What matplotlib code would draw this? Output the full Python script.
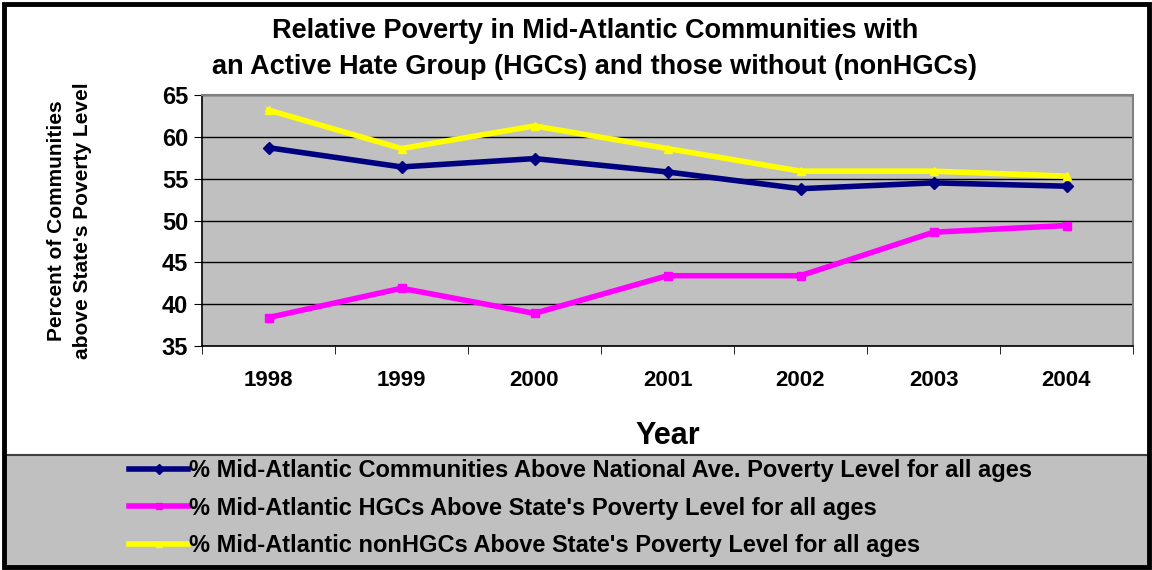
import numpy as np
import matplotlib.pyplot as plt
from matplotlib.patches import Rectangle
from matplotlib.lines import Line2D

# data
years = ["1998", "1999", "2000", "2001", "2002", "2003", "2004"]
national = [58.7, 56.4, 57.4, 55.8, 53.8, 54.5, 54.1]
hgcs = [38.4, 41.9, 38.9, 43.4, 43.4, 48.6, 49.4]
nonhgcs = [63.2, 58.6, 61.3, 58.6, 55.9, 55.9, 55.3]

labels = ["% Mid-Atlantic Communities Above National Ave. Poverty Level for all ages",
          "% Mid-Atlantic HGCs Above State's Poverty Level for all ages",
          "% Mid-Atlantic nonHGCs Above State's Poverty Level for all ages"]
colors = ["#000080", "#FF00FF", "#FFFF00"]
markers = ["D", "s", "^"]

plt.rcParams['font.family'] = ['Liberation Sans', 'DejaVu Sans']
plt.rcParams['font.weight'] = 'bold'

W, H = 1152, 570
fig = plt.figure(figsize=(W / 100, H / 100), dpi=100)

def fx(px):
    return px / W

def fy(py):
    return 1 - py / H

# legend box at the bottom
fig.patches.append(Rectangle((fx(5), fy(567)), fx(1145), (567 - 455) / H,
                             transform=fig.transFigure, facecolor="#C0C0C0",
                             edgecolor="#404040", linewidth=1.5, zorder=0))
# outer black frame
fig.patches.append(Rectangle((fx(4), fy(567)), fx(1145), (567 - 4) / H,
                             transform=fig.transFigure, facecolor="none",
                             edgecolor="black", linewidth=3.5, zorder=5))

ax = fig.add_axes([fx(202), fy(346), fx(1133 - 202), (346 - 95) / H])
ax.set_facecolor("#C0C0C0")

x = np.arange(len(years))
series = [national, hgcs, nonhgcs]
for vals, c, m, lab in zip(series, colors, markers, labels):
    ax.plot(x, vals, color=c, linewidth=4, marker=m, markersize=6,
            markeredgecolor=c, label=lab, zorder=3)

ax.set_xlim(-0.5, len(years) - 0.5)
ax.set_ylim(35, 65)
ax.set_yticks(np.arange(35, 66, 5))
ax.set_xticks(x)
ax.set_xticklabels(years, fontsize=16, fontweight="bold")
ax.tick_params(axis="x", length=0, pad=17)
ax.set_xticks(np.arange(-0.5, len(years)), minor=True)
ax.tick_params(axis="x", which="minor", length=6, direction="out", color="black")
ax.tick_params(axis="y", labelsize=17, length=6, direction="out", pad=4)
for t in ax.get_yticklabels():
    t.set_fontweight("bold")
ax.yaxis.grid(True, color="black", linewidth=1)
ax.set_axisbelow(True)
for side in ["top", "right"]:
    ax.spines[side].set_color("#808080")
    ax.spines[side].set_linewidth(1.5)
for side in ["left", "bottom"]:
    ax.spines[side].set_color("black")
    ax.spines[side].set_linewidth(1.2)

ax.set_xlabel("Year", fontsize=22, fontweight="bold", labelpad=22)
ax.set_ylabel("Percent of Communities\nabove State's Poverty Level",
              fontsize=15, fontweight="bold", labelpad=50, linespacing=1.5)

fig.text(fx(595), fy(49), "Relative Poverty in Mid-Atlantic Communities with\n"
         "an Active Hate Group (HGCs) and those without (nonHGCs)",
         ha="center", va="center", fontsize=19.5, fontweight="bold", linespacing=1.55)

handles = [Line2D([], [], color=c, linewidth=4, marker=m, markersize=5, markeredgecolor=c)
           for c, m in zip(colors, markers)]
fig.legend(handles, labels, loc="center left", bbox_to_anchor=(fx(108), fy(508)),
           frameon=False, handlelength=2.5, handletextpad=0.02,
           labelspacing=0.62, prop={"weight": "bold", "size": 17})

plt.savefig("out.png", dpi=100)
